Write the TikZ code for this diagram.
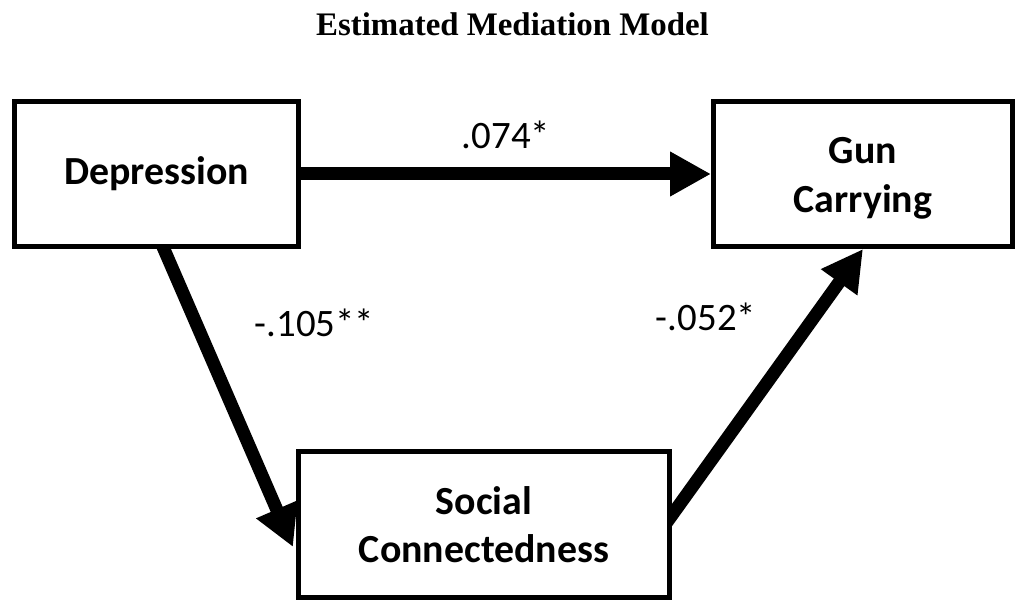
\documentclass[tikz,border=0pt]{standalone}
\usepackage{fontspec}
\setmainfont{Carlito}
\newfontfamily\titlefont{Liberation Serif}
\usetikzlibrary{arrows.meta,backgrounds}
\begin{document}
\begin{tikzpicture}[x=1bp,y=-1bp,
  box/.style={draw=black, line width=5bp, fill=white, inner sep=0pt, align=center,
    font=\fontsize{40}{48.5}\selectfont\bfseries},
  coef/.style={anchor=base, inner sep=0pt, font=\fontsize{39}{47}\selectfont},
  link/.style={line width=13bp, draw=black, -{Triangle[length=41bp,width=42bp]}}
]
\useasboundingbox (0,0) rectangle (1024,610);

\node[anchor=base, inner sep=0pt, font=\titlefont\bfseries\fontsize{33}{40}\selectfont] (title) at (512.5,36) {Estimated Mediation Model};

\node[box, minimum width=284bp, minimum height=145bp] (dep) at (156.5,174) {Depression};
\node[box, minimum width=299bp, minimum height=145bp, text height=83bp] (gun) at (863,174) {Gun\\Carrying};
\node[box, minimum width=371bp, minimum height=146bp] (soc) at (484,524.5) {Social\\Connectedness};

\begin{scope}[on background layer]
\draw[link] (dep.east) -- (gun.west);
\draw[link] ([xshift=3.5bp,yshift=9bp]dep.south) -- ([xshift=-3bp,yshift=-22.5bp]soc.west);
\draw[link] ([xshift=-5.8bp,yshift=1.4bp]soc.east) -- (gun.south);
\end{scope}

\node[coef] (l1) at (506,149) {.074*};
\node[coef] (l2) at (314.5,336) {-.105**};
\node[coef] (l3) at (706,330) {-.052*};
\end{tikzpicture}
\end{document}
